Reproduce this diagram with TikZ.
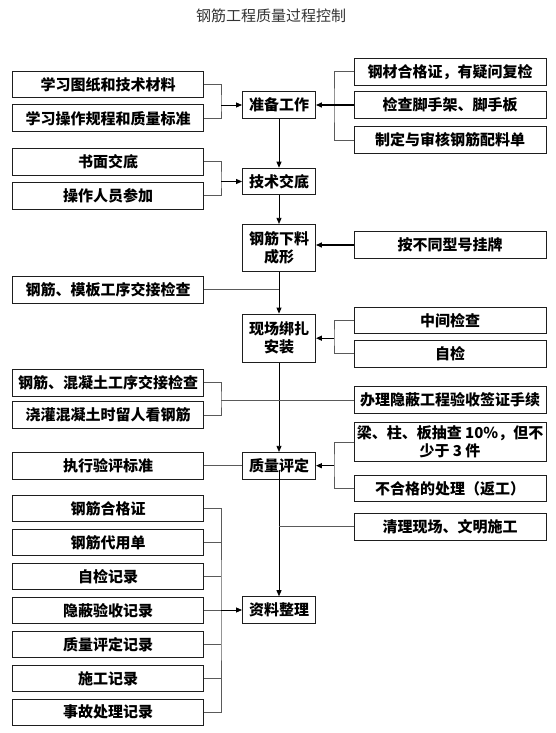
\documentclass[tikz,border=0pt]{standalone}
\usepackage{fontspec}
\setmainfont{Noto Sans CJK SC}
\usetikzlibrary{arrows.meta}
\definecolor{LineGray}{HTML}{5A5A5A}
\definecolor{BoxLine}{HTML}{1E1E1E}
\newcommand{\BoxFont}{\bfseries\fontsize{15}{18}\selectfont}

\begin{document}
\begin{tikzpicture}[x=1pt, y=-1pt,
    box/.style={draw=BoxLine, line width=0.9pt, fill=white, inner sep=0pt,
        minimum height=26.7pt, font=\BoxFont, align=center},
    side/.style={box, minimum width=191pt},
    wide/.style={box, minimum width=192pt},
    mid/.style={box, minimum width=73pt},
    link/.style={draw=LineGray, line width=0.8pt},
    flow/.style={draw=black, line width=0.8pt, -{Triangle[length=6pt,width=5pt]}},
    feed/.style={flow, line width=1.4pt}]
\useasboundingbox (0,0) rectangle (555,733);

\node[font=\fontsize{15}{18}\selectfont, text=black!80] (title) at (271,16) {钢筋工程质量过程控制};

% main column
\node[mid] (prep) at (279,105) {准备工作};
\node[mid] (disclose) at (279,181.5) {技术交底};
\node[mid, minimum height=46.7pt] (cut) at (279,247.7) {钢筋下料\\成形};
\node[mid, minimum height=48.3pt] (bind) at (279,338.2) {现场绑扎\\安装};
\node[mid] (grade) at (279,465.7) {质量评定};
\node[mid] (docs) at (279,610) {资料整理};

% left side
\node[side] (drawings) at (108,84.5) {学习图纸和技术材料};
\node[side] (rules) at (108,118.3) {学习操作规程和质量标准};
\node[side] (written) at (108,161.7) {书面交底};
\node[side] (staff) at (108,195.8) {操作人员参加};
\node[side] (formwork) at (108,289.7) {钢筋、模板工序交接检查};
\node[side] (concrete) at (108,382.8) {钢筋、混凝土工序交接检查};
\node[side] (watch) at (108,415) {浇灌混凝土时留人看钢筋};
\node[side] (standard) at (108,465.7) {执行验评标准};
\node[side] (rec1) at (108,508.3) {钢筋合格证};
\node[side] (rec2) at (108,542.3) {钢筋代用单};
\node[side] (rec3) at (108,576.3) {自检记录};
\node[side] (rec4) at (108,610.3) {隐蔽验收记录};
\node[side] (rec5) at (108,644.3) {质量评定记录};
\node[side] (rec6) at (108,678.3) {施工记录};
\node[side] (rec7) at (108,712.3) {事故处理记录};

% right side
\node[wide] (cert) at (450,71.7) {钢材合格证，有疑问复检};
\node[wide] (scaffold) at (450,105) {检查脚手架、脚手板};
\node[wide] (schedule) at (450,140) {制定与审核钢筋配料单};
\node[wide] (tags) at (450,245) {按不同型号挂牌};
\node[wide] (midcheck) at (450,320.3) {中间检查};
\node[wide] (selfcheck) at (450,353.8) {自检};
\node[wide] (hidden) at (450,400) {办理隐蔽工程验收签证手续};
\node[wide, minimum height=39pt] (sample) at (450,442) {梁、柱、板抽查 10\%，但不\\少于 3 件};
\node[wide] (rework) at (450,488.5) {不合格的处理（返工）};
\node[wide] (cleanup) at (450,526.7) {清理现场、文明施工};

\coordinate (prep-in) at (221,105);
\coordinate (prep-feed) at (334,105);
\coordinate (disclose-in) at (221,181.5);
\coordinate (bind-feed) at (334,338.2);
\coordinate (concrete-join) at (221,400);
\coordinate (grade-feed) at (334,465.7);
\coordinate (docs-in) at (221,610);

\draw[flow] (prep.south) -- (disclose.north);
\draw[flow] (disclose.south) -- (cut.north);
\draw[flow] (cut.south) -- (bind.north);
\draw[flow] (bind.south) -- (grade.north);
\draw[flow] ([yshift=-4pt]grade.center) -- (docs.north);

\draw[link] (drawings.east) -| (prep-in) |- (rules.east);
\draw[flow] (prep-in) -- (prep.west);
\draw[link] (cert.west) -| (prep-feed) |- (schedule.west);
\draw[feed] (scaffold.west) -- (prep.east);

\draw[link] (written.east) -| (disclose-in) |- (staff.east);
\draw[flow] (disclose-in) -- (disclose.west);

\draw[feed] (tags.west) -- (tags.west -| cut.east);
\draw[link] (formwork.east) -- (formwork.east -| cut.south);

\draw[link] (midcheck.west) -| (bind-feed) |- (selfcheck.west);
\draw[feed] (bind-feed) -- (bind.east);

\draw[link] (concrete.east) -| (concrete-join) |- (watch.east);
\draw[link] (concrete-join) -- (hidden.west);

\draw[link] (standard.east) -- (grade.west);
\draw[link] (sample.west) -| (grade-feed) |- (rework.west);
\draw[feed] (grade-feed) -- (grade.east);
\draw[link] (cleanup.west) -- (cleanup.west -| grade.south);

\draw[link] (rec1.east) -| (docs-in) |- (rec7.east);
\draw[link] (rec2.east) -- (rec2.east -| docs-in);
\draw[link] (rec3.east) -- (rec3.east -| docs-in);
\draw[link] (rec4.east) -- (rec4.east -| docs-in);
\draw[link] (rec5.east) -- (rec5.east -| docs-in);
\draw[link] (rec6.east) -- (rec6.east -| docs-in);
\draw[flow] (docs-in) -- (docs.west);
\end{tikzpicture}
\end{document}
